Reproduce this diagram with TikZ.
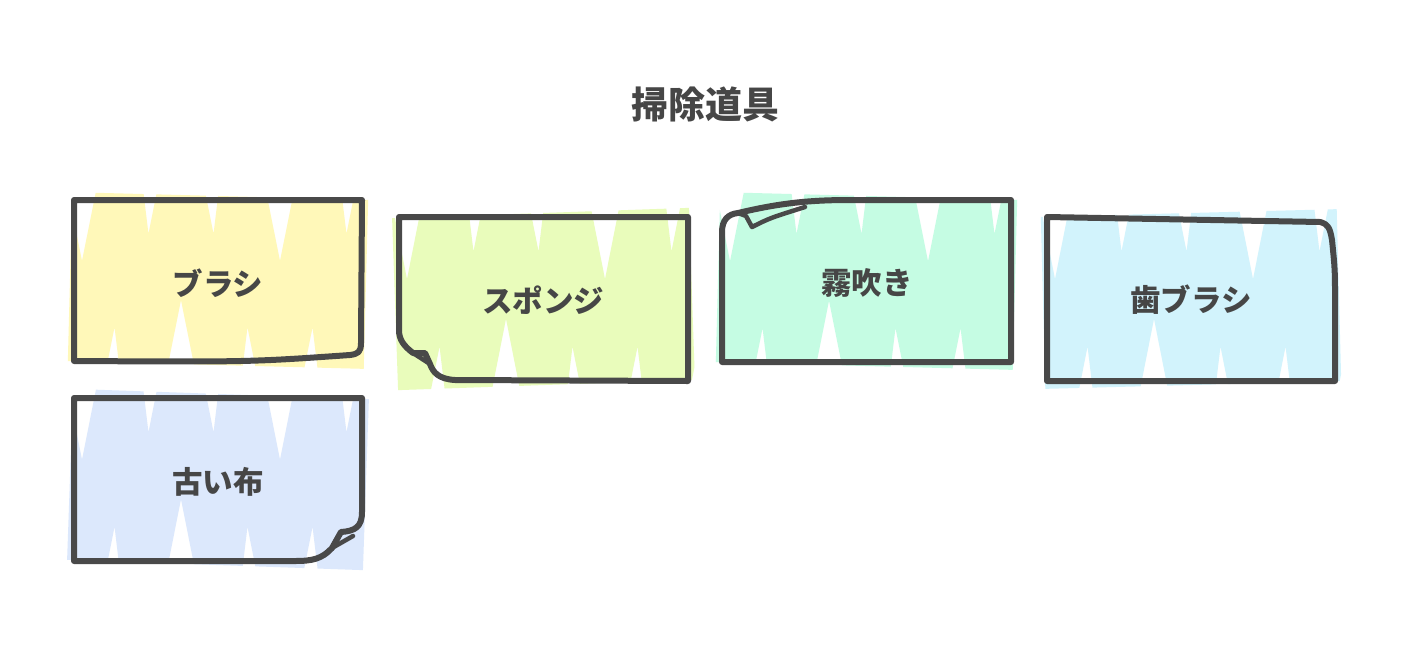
\documentclass[tikz,border=0pt]{standalone}
\usepackage{fontspec}
\newfontfamily\cjk{Noto Sans CJK JP}
\definecolor{ink}{RGB}{73,73,73}
\definecolor{txt}{RGB}{70,70,70}
\definecolor{cyel}{RGB}{255,248,185}
\definecolor{clime}{RGB}{233,252,187}
\definecolor{cmint}{RGB}{197,252,227}
\definecolor{cblue}{RGB}{210,243,252}
\definecolor{cperi}{RGB}{220,232,252}
\newcommand\hach[6]{%
  \begin{scope}
    \clip[rotate around={#6:({(#1+#3)/2},{(#2+#4)/2})}] (#1-4,#2-4) rectangle (#3+4,#4+4);
    \draw[#5, line width=45pt, line join=round]
      (#1-30,#2-14) \foreach \k in {1,...,12} { -- ({#1-30+\k*33+mod(\k,3)*5}, {#2-14+mod(\k,2)*(#4-#2+28)}) };
  \end{scope}}
\tikzset{
  border/.style={draw=ink, line width=6pt, line join=round, line cap=round},
  foldline/.style={draw=ink, line width=4.5pt, line join=round, line cap=round},
  lbl/.style={text=txt, font=\cjk\bfseries\fontsize{30.5}{32}\selectfont, inner sep=0pt},
  ttl/.style={text=txt, font=\cjk\bfseries\fontsize{37}{39}\selectfont, inner sep=0pt}
}
\begin{document}
\begin{tikzpicture}[x=1pt,y=-1pt]
\useasboundingbox (0,0) rectangle (1410,654);
\fill[white] (0,0) rectangle (1410,654);
\node[ttl] (title) at (705,104) {掃除道具};
% box 1
\hach{74}{200}{362}{361}{cyel}{-1.5}
\path[border] (74,200) -- (362,200) -- (361,343) .. controls (361,352) and (358,354) .. (350,355) .. controls (250,362) .. (74,361) -- cycle;
\node[lbl] (b1) at (218,283) {ブラシ};
% box 2
\hach{399}{217}{688}{381}{clime}{2}
\path[border] (399,217) -- (688,217) -- (688,381) -- (455,380) .. controls (438,379) and (433,372) .. (430,364) -- (425,353) -- (413,353) .. controls (404,346) and (399,340) .. (399,330) -- cycle;
\path[foldline] (413,353) -- (430,364);
\node[lbl] (b2) at (543,300) {スポンジ};
% box 3
\hach{722}{200}{1011}{362}{cmint}{-1.5}
\path[border] (1011,200) -- (1011,362) -- (722,362) -- (722,232) .. controls (722,220) and (728,214) .. (738,213) .. controls (780,203) and (810,200) .. (850,200) -- cycle;
\path[foldline] (738,213) -- (746,216) -- (752,227) .. controls (770,218) .. (805,207);
\node[lbl] (b3) at (867,283) {霧吹き};
% box 4
\hach{1047}{217}{1335}{381}{cblue}{1.5}
\path[border] (1047,217) -- (1320,222) .. controls (1328,224) and (1330,228) .. (1332,240) .. controls (1335,270) .. (1335,300) -- (1335,381) -- (1047,381) -- cycle;
\node[lbl] (b4) at (1191,300) {歯ブラシ};
% box 5
\hach{74}{398}{362}{561}{cperi}{-2}
\path[border] (74,398) -- (362,398) -- (362,512) .. controls (362,527) and (355,531) .. (341,532) -- (332,548) .. controls (322,559) and (312,561) .. (295,561) -- (74,561) -- cycle;
\path[foldline] (353,536) -- (332,548);
\node[lbl] (b5) at (218,482) {古い布};
\end{tikzpicture}
\end{document}
